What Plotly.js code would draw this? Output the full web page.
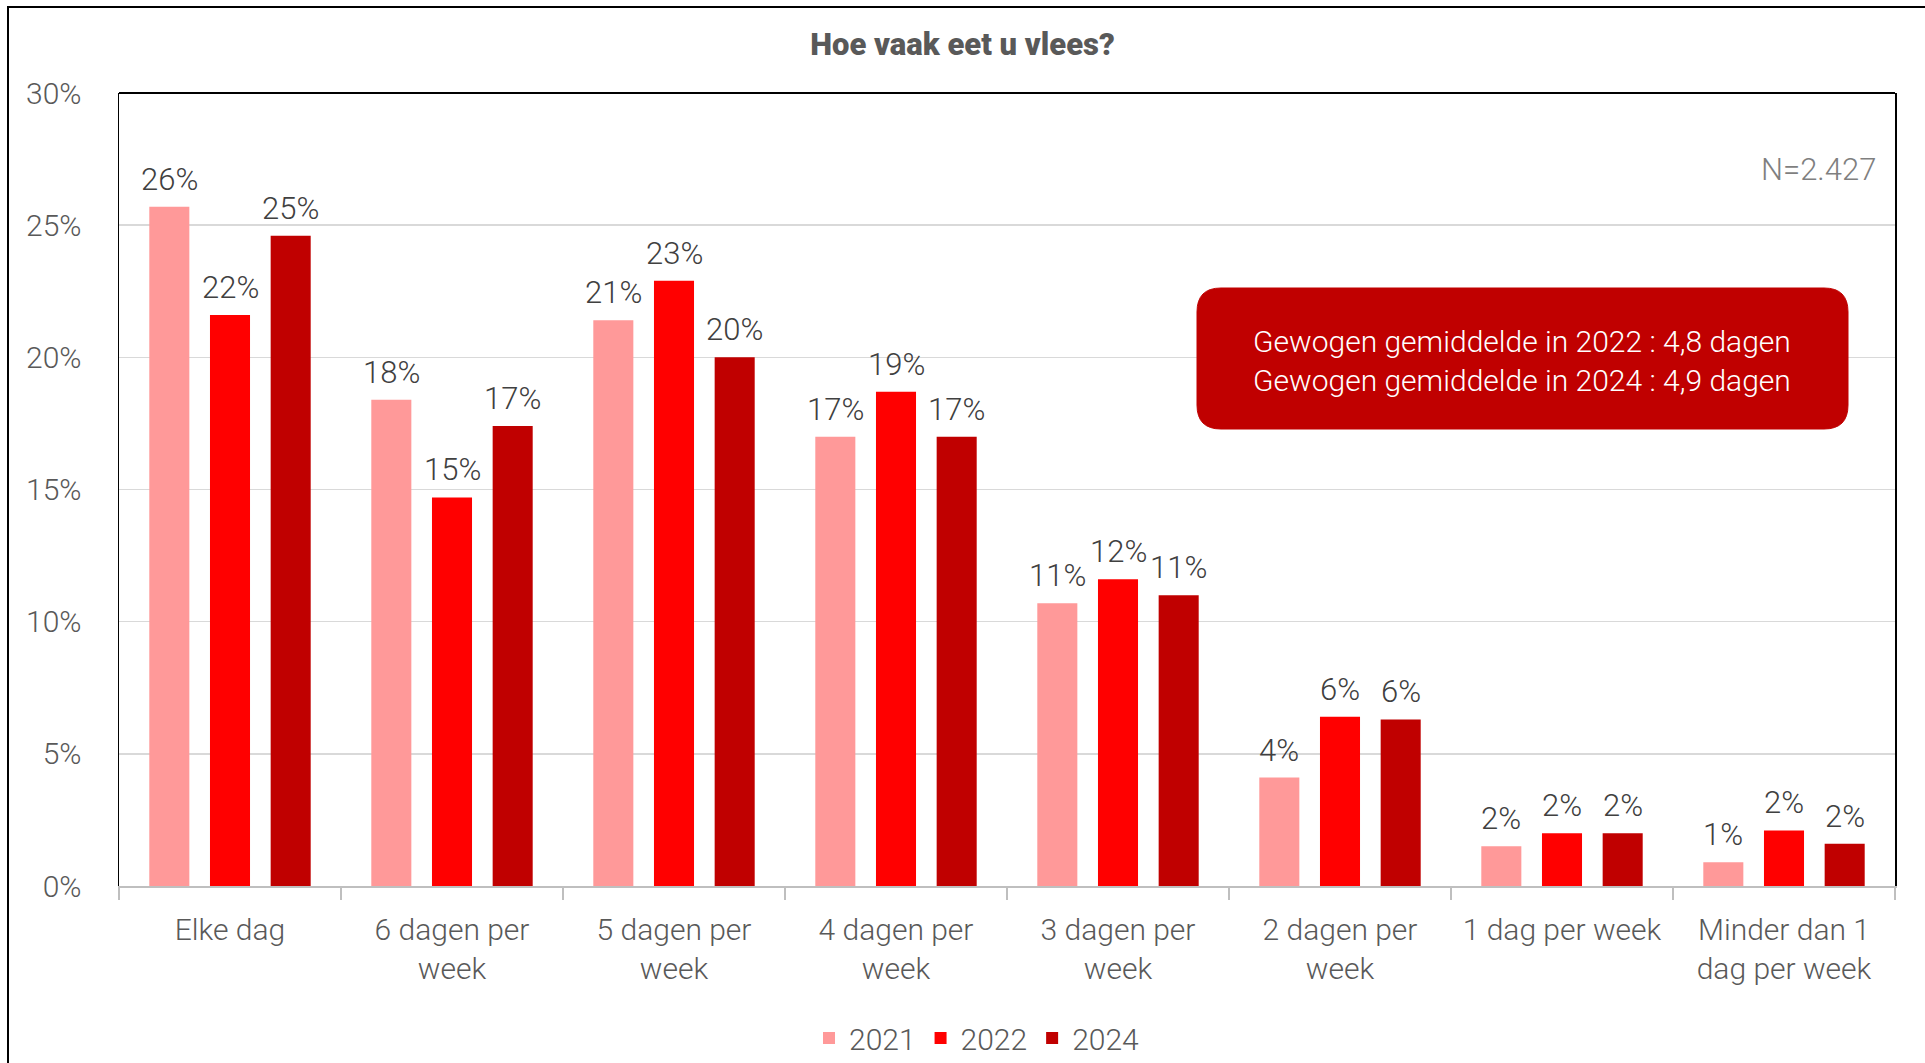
<!DOCTYPE html>
<html>
<head>
<meta charset="utf-8">
<script src="https://cdn.plot.ly/plotly-3.0.1.min.js"></script>
<style>
  html, body { margin: 0; padding: 0; background: #ffffff; }
  #chart { width: 1925px; height: 1063px; }
</style>
</head>
<body>
<div id="chart"></div>
<script>
// ---- Data ----
const categories = [
  "Elke dag",
  "6 dagen per<br>week",
  "5 dagen per<br>week",
  "4 dagen per<br>week",
  "3 dagen per<br>week",
  "2 dagen per<br>week",
  "1 dag per week",
  "Minder dan 1<br>dag per week"
];
const seriesNames = ["2021", "2022", "2024"];
const values2021 = [25.7, 18.4, 21.4, 17.0, 10.7, 4.1, 1.5, 0.9];
const values2022 = [21.6, 14.7, 22.9, 18.7, 11.6, 6.4, 2.0, 2.1];
const values2024 = [24.6, 17.4, 20.0, 17.0, 11.0, 6.3, 2.0, 1.6];
const seriesColors = ["#FF9999", "#FF0000", "#C00000"];
const yTickValues = [0, 5, 10, 15, 20, 25, 30];
const chartTitle = "Hoe vaak eet u vlees?";
const sampleNote = "N=2.427";
const boxLines = [
  "Gewogen gemiddelde in 2022 : 4,8 dagen",
  "Gewogen gemiddelde in 2024 : 4,9 dagen"
];

// ---- Layout constants ----
const W = 1925, H = 1063;
const M = { l: 119, r: 30, t: 93, b: 177 };
const plotW = W - M.l - M.r;
const plotH = H - M.t - M.b;
const bargap = 0.18, bargroupgap = 0.34;
const FONT = "Roboto, 'Open Sans', Arial, sans-serif";

const allSeries = [values2021, values2022, values2024];

const traces = allSeries.map((vals, i) => ({
  type: "bar",
  name: seriesNames[i],
  x: categories,
  y: vals,
  marker: { color: seriesColors[i] },
  hoverinfo: "none"
}));

// data labels as annotations (positioned via the axes)
const slotPx = plotW / categories.length * (1 - bargap) / allSeries.length;
const annotations = [];
allSeries.forEach((vals, i) => {
  vals.forEach((v, j) => {
    annotations.push({
      x: categories[j], y: v, xref: "x", yref: "y",
      xshift: (i - (allSeries.length - 1) / 2) * slotPx,
      yshift: 7,
      yanchor: "bottom", xanchor: "center",
      text: Math.round(v) + "%",
      showarrow: false,
      font: { family: FONT, size: 31, color: "#404040", weight: 300 }
    });
  });
});

// helpers for paper coords
const px2x = p => (p - M.l) / plotW;
const py2y = p => (M.t + plotH - p) / plotH;

annotations.push({
  xref: "paper", yref: "paper",
  x: px2x(1878), y: py2y(170),
  xanchor: "right", yanchor: "middle",
  text: sampleNote, showarrow: false,
  font: { family: FONT, size: 31, color: "#7F7F7F", weight: 300 }
});

// rounded box
const bx0 = px2x(1197), bx1 = px2x(1848), byTop = py2y(288), byBot = py2y(429);
const rx = 24 / plotW, ry = 24 / plotH;
const boxPath = [
  `M ${bx0 + rx},${byTop}`,
  `L ${bx1 - rx},${byTop}`,
  `Q ${bx1},${byTop} ${bx1},${byTop - ry}`,
  `L ${bx1},${byBot + ry}`,
  `Q ${bx1},${byBot} ${bx1 - rx},${byBot}`,
  `L ${bx0 + rx},${byBot}`,
  `Q ${bx0},${byBot} ${bx0},${byBot + ry}`,
  `L ${bx0},${byTop - ry}`,
  `Q ${bx0},${byTop} ${bx0 + rx},${byTop}`,
  "Z"
].join(" ");

annotations.push({
  xref: "paper", yref: "paper",
  x: (bx0 + bx1) / 2, y: py2y(361),
  xanchor: "center", yanchor: "middle",
  text: boxLines.join("<br>"), showarrow: false,
  font: { family: FONT, size: 30, color: "#FFFFFF", weight: 300 }
});

const shapes = [
  // outer chart border (left & top visible)
  { type: "rect", xref: "paper", yref: "paper",
    x0: px2x(8), x1: px2x(W + 20), y0: py2y(H + 20), y1: py2y(7),
    line: { color: "#000000", width: 2 }, fillcolor: "rgba(0,0,0,0)", layer: "above" },
  // top line of plot frame
  { type: "line", xref: "paper", yref: "paper", x0: 0, x1: 1, y0: 1, y1: 1,
    line: { color: "#000000", width: 2 }, layer: "above" },
  // rounded annotation box
  { type: "path", xref: "paper", yref: "paper", path: boxPath,
    fillcolor: "#C00000", line: { color: "#C00000", width: 1 }, layer: "above" }
];

const layout = {
  width: W, height: H,
  margin: M,
  paper_bgcolor: "#FFFFFF",
  plot_bgcolor: "#FFFFFF",
  barmode: "group",
  bargap: bargap,
  bargroupgap: bargroupgap,
  font: { family: FONT, color: "#595959" },
  title: {
    text: chartTitle,
    font: { family: FONT, size: 31, color: "#595959", weight: 900 },
    x: 0.5, xref: "container", xanchor: "center",
    y: 1 - 44 / H, yref: "container", yanchor: "middle"
  },
  xaxis: {
    type: "category",
    showline: true, linecolor: "#BFBFBF", linewidth: 2,
    ticks: "outside", tickson: "boundaries", ticklen: 12, tickwidth: 2, tickcolor: "#BFBFBF",
    ticklabelstandoff: 16,
    tickfont: { family: FONT, size: 30, color: "#595959", weight: 300 },
    showgrid: false, zeroline: false, fixedrange: true
  },
  yaxis: {
    range: [0, 30],
    tickvals: yTickValues,
    ticktext: yTickValues.map(v => v + "%"),
    showgrid: true, gridcolor: "#D9D9D9", gridwidth: 1.5,
    showline: true, linecolor: "#000000", linewidth: 1.5, mirror: true,
    zeroline: false,
    ticks: "", ticklabelstandoff: 30,
    tickfont: { family: FONT, size: 30, color: "#595959", weight: 300 },
    fixedrange: true
  },
  legend: {
    orientation: "h",
    xref: "container", yref: "container",
    x: 977 / W, xanchor: "center",
    y: 1 - 1038 / H, yanchor: "middle",
    font: { family: FONT, size: 30, color: "#595959", weight: 300 },
    traceorder: "normal",
    itemclick: false, itemdoubleclick: false
  },
  annotations: annotations,
  shapes: shapes,
  showlegend: true
};

Plotly.newPlot("chart", traces, layout, { staticPlot: true, displayModeBar: false });
</script>
</body>
</html>
